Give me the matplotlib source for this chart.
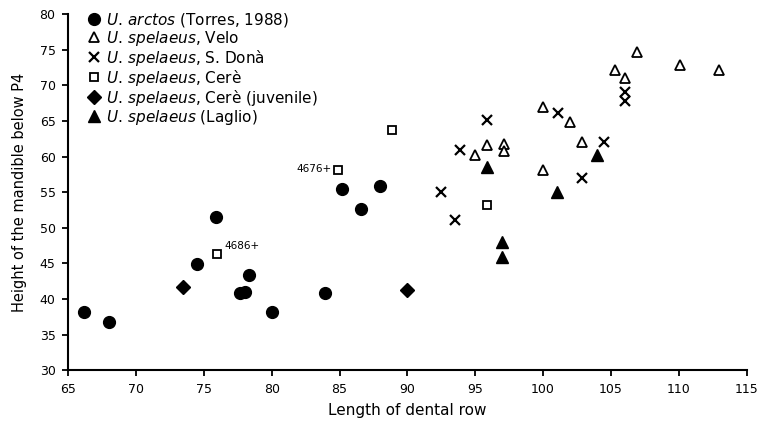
import matplotlib
matplotlib.use("Agg")
import matplotlib.pyplot as plt

plt.rcParams['font.family'] = ['DejaVu Sans']
plt.rcParams['mathtext.fontset'] = 'dejavusans'

# U. arctos (Torres, 1988)
arctos_x = [66.2, 68.0, 74.5, 75.9, 77.7, 78.0, 78.3, 80.0, 83.9, 85.2, 86.6, 88.0]
arctos_y = [38.2, 36.8, 44.9, 51.5, 40.9, 41.0, 43.3, 38.2, 40.8, 55.4, 52.6, 55.8]

# U. spelaeus, Velo
velo_x = [95.0, 95.9, 97.1, 97.1, 100.0, 100.0, 102.0, 102.9, 105.3, 106.0, 106.9, 110.1, 113.0]
velo_y = [60.2, 61.6, 61.8, 60.8, 58.1, 66.9, 64.8, 62.0, 72.1, 71.0, 74.7, 72.8, 72.1]

# U. spelaeus, S. Donà
dona_x = [92.5, 93.5, 93.9, 95.9, 101.1, 102.9, 104.5, 106.0, 106.0]
dona_y = [55.0, 51.1, 60.9, 65.1, 66.1, 57.0, 62.0, 69.0, 67.8]

# U. spelaeus, Cerè
cere_x = [76.0, 84.9, 88.9, 95.9]
cere_y = [46.3, 58.1, 63.7, 53.2]
cere_labels = ['4686+', '4676+', '', '']

# U. spelaeus, Cerè (juvenile)
juv_x = [73.5, 90.0]
juv_y = [41.7, 41.2]

# U. spelaeus (Laglio)
laglio_x = [95.9, 97.0, 97.0, 101.0, 104.0]
laglio_y = [58.5, 48.0, 45.9, 55.0, 60.2]

fig = plt.figure(figsize=(7.65, 4.26), dpi=100)
ax = fig.add_axes([0.089, 0.131, 0.887, 0.836])

ax.plot(arctos_x, arctos_y, 'o', color='black', ms=8.5, ls='none',
        label=r'$\it{U.\,arctos}$ (Torres, 1988)')
ax.plot(velo_x, velo_y, '^', mfc='white', mec='black', mew=1.3, ms=7.5, ls='none',
        label=r'$\it{U.\,spelaeus}$, Velo')
ax.plot(dona_x, dona_y, 'x', color='black', mew=1.6, ms=7, ls='none',
        label=r'$\it{U.\,spelaeus}$, S. Donà')
ax.plot(cere_x, cere_y, 's', mfc='white', mec='black', mew=1.3, ms=5.5, ls='none',
        label=r'$\it{U.\,spelaeus}$, Cerè')
ax.plot(juv_x, juv_y, 'D', color='black', ms=7, ls='none',
        label=r'$\it{U.\,spelaeus}$, Cerè (juvenile)')
ax.plot(laglio_x, laglio_y, '^', color='black', ms=8.5, ls='none',
        label=r'$\it{U.\,spelaeus}$ (Laglio)')

# specimen numbers next to two Cerè points
ax.annotate(cere_labels[0], (cere_x[0], cere_y[0]), xytext=(5, 2),
            textcoords='offset points', fontsize=7.5, ha='left', va='bottom')
ax.annotate(cere_labels[1], (cere_x[1], cere_y[1]), xytext=(-5, 1),
            textcoords='offset points', fontsize=7.5, ha='right', va='center')

ax.set_xlim(65, 115)
ax.set_ylim(30, 80)
ax.set_xticks(range(65, 116, 5))
ax.set_yticks(range(30, 81, 5))
ax.tick_params(direction='out', length=4, width=1.3, labelsize=9, colors='black', pad=5)

for side in ['top', 'right']:
    ax.spines[side].set_visible(False)
for side in ['left', 'bottom']:
    ax.spines[side].set_linewidth(1.5)
    ax.spines[side].set_color('black')

ax.set_xlabel('Length of dental row', fontsize=11, labelpad=5)
ax.set_ylabel('Height of the mandible below P4', fontsize=10.5, labelpad=9)

leg = ax.legend(loc='upper left', bbox_to_anchor=(0.015, 1.035), frameon=False,
                fontsize=11, handlelength=0.8, handletextpad=0.4,
                labelspacing=0.0, borderaxespad=0.2)

fig.savefig('out.png', dpi=100)
